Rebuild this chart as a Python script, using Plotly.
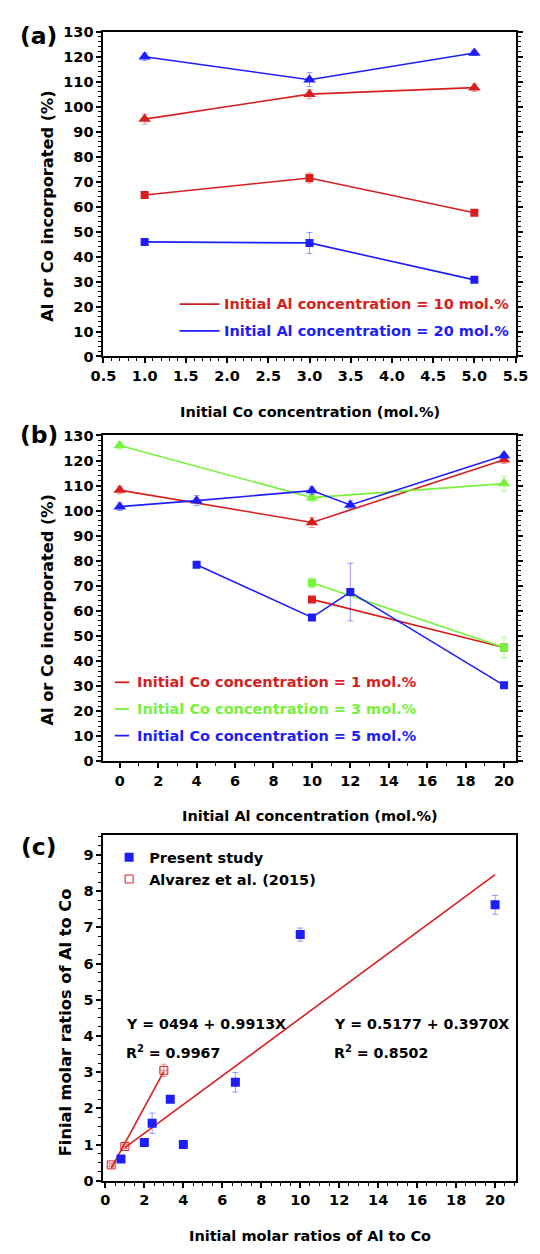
import plotly.graph_objects as go

W, H = 540, 1254

# ---------------- data: panel (a) ----------------
a_x = [1.0, 3.0, 5.0]
a_al10_tri = [95.1, 105.1, 107.7]
a_al10_tri_err = [2.0, 1.8, 1.5]
a_al10_sq = [64.7, 71.5, 57.6]
a_al10_sq_err = [1.0, 2.0, 1.0]
a_al20_tri = [120.1, 110.9, 121.6]
a_al20_tri_err = [1.5, 2.8, 1.0]
a_al20_sq = [45.9, 45.5, 30.7]
a_al20_sq_err = [1.0, 4.2, 1.0]
a_legend = ["Initial Al concentration = 10 mol.%", "Initial Al concentration = 20 mol.%"]

# ---------------- data: panel (b) ----------------
b_co1_x_tri = [0, 10, 20]
b_co1_tri = [108.2, 95.3, 120.3]
b_co1_tri_err = [1.5, 2.0, 1.5]
b_co1_x_sq = [10, 20]
b_co1_sq = [64.6, 45.4]
b_co1_sq_err = [1.0, 1.0]

b_co3_x_tri = [0, 10, 20]
b_co3_tri = [126.0, 105.2, 110.8]
b_co3_tri_err = [1.5, 1.5, 3.0]
b_co3_x_sq = [10, 20]
b_co3_sq = [71.2, 45.4]
b_co3_sq_err = [2.0, 4.1]

b_co5_x_tri = [0, 4, 10, 12, 20]
b_co5_tri = [101.6, 104.0, 108.0, 102.3, 122.0]
b_co5_tri_err = [1.5, 2.0, 1.5, 1.5, 1.0]
b_co5_x_sq = [4, 10, 12, 20]
b_co5_sq = [78.4, 57.4, 67.5, 30.3]
b_co5_sq_err = [1.0, 1.0, 11.5, 1.0]
b_legend = ["Initial Co concentration = 1 mol.%",
            "Initial Co concentration = 3 mol.%",
            "Initial Co concentration = 5 mol.%"]

# ---------------- data: panel (c) ----------------
c_present_x = [0.8, 2.0, 2.4, 3.33, 4.0, 6.67, 10.0, 20.0]
c_present_y = [0.60, 1.06, 1.59, 2.25, 1.00, 2.72, 6.80, 7.62]
c_present_err = [0.05, 0.05, 0.28, 0.05, 0.05, 0.27, 0.18, 0.26]
c_alv_x = [0.3, 1.0, 3.0]
c_alv_y = [0.44, 0.95, 3.05]
c_alv_xerr = [0.1, 0.1, 0.15]
c_alv_yerr = [0.05, 0.06, 0.17]
c_fit1_x = [0.3, 3.0]
c_fit1_y = [0.347, 3.023]
c_fit2_x = [1.0, 20.0]
c_fit2_y = [0.915, 8.457]
c_legend = ["Present study", "Alvarez et al. (2015)"]
c_eq1 = ["Y = 0494 + 0.9913X", "R<sup>2</sup> = 0.9967"]
c_eq2 = ["Y = 0.5177 + 0.3970X", "R<sup>2</sup> = 0.8502"]

# ---------------- styles ----------------
RED = "#d81e1e"
GREEN = "#74f23c"
BLUE = "#1e1efa"
RED_E = "rgba(216,30,30,0.45)"
GREEN_E = "rgba(116,242,60,0.6)"
BLUE_E = "rgba(30,30,250,0.45)"
FONT = "DejaVu Sans"
FS = 14.5
FS_EQ = 14.2
FS_YT = 16.2


def px(xp, yp):
    return xp / W, 1 - yp / H


XL, XR = 95, 528
A_T, A_B = 24.3, 353
B_T, B_B = 433, 763
C_T, C_B = 838, 1188

fig = go.Figure()


def series(x, y, err, color, ecolor, symbol, size, xa, ya):
    fig.add_trace(go.Scatter(
        x=x, y=y, mode="lines+markers",
        line=dict(color=color, width=1.6),
        marker=dict(symbol=symbol, size=size, color=color),
        error_y=dict(type="data", array=err, color=ecolor, thickness=1, width=3),
        xaxis=xa, yaxis=ya, showlegend=False, hoverinfo="skip"))


# panel (a)
series(a_x, a_al10_tri, a_al10_tri_err, RED, RED_E, "triangle-up", 11, "x", "y")
series(a_x, a_al10_sq, a_al10_sq_err, RED, RED_E, "square", 8, "x", "y")
series(a_x, a_al20_tri, a_al20_tri_err, BLUE, BLUE_E, "triangle-up", 11, "x", "y")
series(a_x, a_al20_sq, a_al20_sq_err, BLUE, BLUE_E, "square", 8, "x", "y")

# panel (b)
series(b_co1_x_tri, b_co1_tri, b_co1_tri_err, RED, RED_E, "triangle-up", 11, "x2", "y2")
series(b_co1_x_sq, b_co1_sq, b_co1_sq_err, RED, RED_E, "square", 8, "x2", "y2")
series(b_co3_x_tri, b_co3_tri, b_co3_tri_err, GREEN, GREEN_E, "triangle-up", 11, "x2", "y2")
series(b_co3_x_sq, b_co3_sq, b_co3_sq_err, GREEN, GREEN_E, "square", 8, "x2", "y2")
series(b_co5_x_tri, b_co5_tri, b_co5_tri_err, BLUE, BLUE_E, "triangle-up", 11, "x2", "y2")
series(b_co5_x_sq, b_co5_sq, b_co5_sq_err, BLUE, BLUE_E, "square", 8, "x2", "y2")

# panel (c)
fig.add_trace(go.Scatter(x=c_fit1_x, y=c_fit1_y, mode="lines",
                         line=dict(color=RED, width=1.6), xaxis="x3", yaxis="y3",
                         showlegend=False, hoverinfo="skip"))
fig.add_trace(go.Scatter(x=c_fit2_x, y=c_fit2_y, mode="lines",
                         line=dict(color=RED, width=1.6), xaxis="x3", yaxis="y3",
                         showlegend=False, hoverinfo="skip"))
fig.add_trace(go.Scatter(x=c_present_x, y=c_present_y, mode="markers", name=c_legend[0],
                         marker=dict(symbol="square", size=9, color=BLUE),
                         error_y=dict(type="data", array=c_present_err, color=BLUE_E,
                                      thickness=1, width=3),
                         xaxis="x3", yaxis="y3", hoverinfo="skip"))
fig.add_trace(go.Scatter(x=c_alv_x, y=c_alv_y, mode="markers", name=c_legend[1],
                         marker=dict(symbol="square-open", size=8, color=RED,
                                     line=dict(width=1)),
                         error_y=dict(type="data", array=c_alv_yerr, color=RED_E,
                                      thickness=1, width=3),
                         error_x=dict(type="data", array=c_alv_xerr, color=RED_E,
                                      thickness=1, width=3),
                         xaxis="x3", yaxis="y3", hoverinfo="skip"))


def ax(**kw):
    d = dict(showline=True, linecolor="black", linewidth=2, ticks="outside",
             ticklen=5, tickwidth=1.5, tickcolor="black", showgrid=False,
             zeroline=False, tickfont=dict(size=FS, color="black"),
             ticklabeloverflow="allow",
             minor=dict(ticks="outside", ticklen=3, tickwidth=1.2, tickcolor="black"))
    minor = kw.pop("minor_dtick", None)
    if minor is not None:
        d["minor"]["dtick"] = minor
    d.update(kw)
    return d


dom_x = [XL / W, XR / W]

fig.update_layout(
    width=W, height=H, margin=dict(l=0, r=0, t=0, b=0),
    paper_bgcolor="white", plot_bgcolor="white",
    font=dict(family=FONT, size=FS, color="black", weight="bold"),
    xaxis=ax(domain=dom_x, anchor="y", range=[0.4999, 5.5001], dtick=0.5, tick0=0.5,
             tickformat=".1f", minor_dtick=0.1, mirror=True),
    yaxis=ax(domain=[1 - A_B / H, 1 - A_T / H], anchor="x", range=[0, 130.001], dtick=10,
             minor_dtick=2, mirror="ticks"),
    xaxis2=ax(domain=dom_x, anchor="y2", range=[-0.85, 20.6], dtick=2, tick0=0,
              minor_dtick=1, mirror=True),
    yaxis2=ax(domain=[1 - B_B / H, 1 - B_T / H], anchor="x2", range=[0, 130.001], dtick=10,
              minor_dtick=2, mirror="ticks"),
    xaxis3=ax(domain=dom_x, anchor="y3", range=[-0.1, 21.05], dtick=2, tick0=0,
              minor_dtick=0.5, mirror=True),
    yaxis3=ax(domain=[1 - C_B / H, 1 - C_T / H], anchor="x3", range=[0, 9.54], dtick=1,
              minor_dtick=0.25, mirror=True),
    legend=dict(x=101 / W, y=1 - 844 / H, xanchor="left", yanchor="top",
                bgcolor="rgba(0,0,0,0)", font=dict(size=FS, color="black"),
                tracegroupgap=0),
)

ann = []
shapes = []


def text(xp, yp, t, size=FS, color="black", xanchor="center", angle=0):
    x, y = px(xp, yp)
    ann.append(dict(x=x, y=y, xref="paper", yref="paper", text=t, showarrow=False,
                    xanchor=xanchor, yanchor="middle", textangle=angle,
                    font=dict(size=size, color=color, family=FONT, weight="bold")))


def hline(x0p, x1p, yp, color):
    x0, y0 = px(x0p, yp)
    x1, _ = px(x1p, yp)
    shapes.append(dict(type="line", xref="paper", yref="paper", x0=x0, x1=x1,
                       y0=y0, y1=y0, line=dict(color=color, width=1.8)))


# panel labels
text(27, 28, "(a)", size=23.5)
text(27, 433, "(b)", size=23.5)
text(27, 850, "(c)", size=23.5)

# axis titles
xc = (XL + XR) / 2
text(xc, 409, "Initial Co concentration (mol.%)")
text(xc, 818, "Initial Al concentration (mol.%)")
text(xc, 1244, "Initial molar ratios of Al to Co")
text(36, 201, "Al or Co incorporated (%)", size=FS_YT, angle=-90)
text(36, 610, "Al or Co incorporated (%)", size=FS_YT, angle=-90)
text(56, 1028, "Finial molar ratios of Al to Co", size=FS_YT, angle=-90)

# legend (a)
for i, (lab, col) in enumerate(zip(a_legend, [RED, BLUE])):
    yp = 300 + 27 * i
    hline(175, 217, yp, col)
    text(220, yp, lab, color=col, xanchor="left")

# legend (b)
for i, (lab, col) in enumerate(zip(b_legend, [RED, GREEN, BLUE])):
    yp = 683 + 27 * i
    hline(107, 122, yp, col)
    text(128, yp, lab, color=col, xanchor="left")

# equations (c)
text(117, 1029, c_eq1[0], size=FS_EQ, xanchor="left")
text(117, 1057, c_eq1[1], size=FS_EQ, xanchor="left")
text(335, 1029, c_eq2[0], size=FS_EQ, xanchor="left")
text(335, 1057, c_eq2[1], size=FS_EQ, xanchor="left")

fig.update_layout(annotations=ann, shapes=shapes)
fig.write_html("out.html", config={"displayModeBar": False},
               post_script="document.body.style.margin='0';document.body.style.padding='0';")
